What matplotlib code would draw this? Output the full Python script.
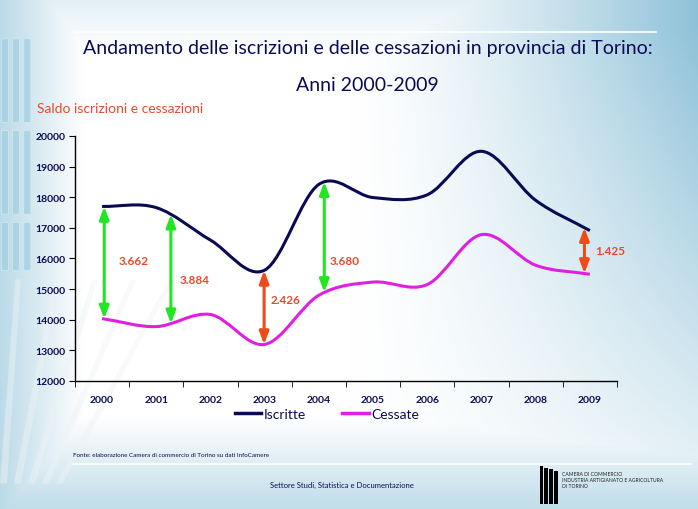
import numpy as np
import matplotlib
matplotlib.use("Agg")
import matplotlib.pyplot as plt
from matplotlib.path import Path
from matplotlib.patches import PathPatch, Polygon, FancyBboxPatch
from matplotlib.lines import Line2D

# dati
anni = ["2000", "2001", "2002", "2003", "2004", "2005", "2006", "2007", "2008", "2009"]
iscritte = [17700, 17660, 16600, 15620, 18420, 17990, 18080, 19500, 17900, 16910]
cessate = [14038, 13776, 14170, 13194, 14800, 15230, 15150, 16780, 15780, 15485]

# saldi annotati
saldi_idx = [0, 1, 3, 4, 9]
saldi_lbl = ["3.662", "3.884", "2.426", "3.680", "1.425"]
saldi_col = ["#22e622", "#22e622", "#f04a18", "#22e622", "#f04a18"]
saldi_dx = [0.04, 0.27, -0.01, 0.1, -0.1]
lbl_dx = [0.27, 0.17, 0.11, 0.1, 0.2]
lbl_dy = [60, -360, 260, -780, 0]

navy = "#0b0b55"
red_txt = "#e84a2a"
plt.rcParams['font.family'] = ['Lato', 'DejaVu Sans']


def ctrl_points(y):
    # Catmull-Rom -> bezier, come la linea "smussata" di Excel
    x = np.arange(len(y), dtype=float)
    y = np.asarray(y, dtype=float)
    px = np.concatenate([[2 * x[0] - x[1]], x, [2 * x[-1] - x[-2]]])
    py = np.concatenate([[2 * y[0] - y[1]], y, [2 * y[-1] - y[-2]]])
    segs = []
    for i in range(len(y) - 1):
        p0 = (px[i], py[i]); p1 = (px[i + 1], py[i + 1])
        p2 = (px[i + 2], py[i + 2]); p3 = (px[i + 3], py[i + 3])
        c1 = (p1[0] + (p2[0] - p0[0]) / 6, p1[1] + (p2[1] - p0[1]) / 6)
        c2 = (p2[0] - (p3[0] - p1[0]) / 6, p2[1] - (p3[1] - p1[1]) / 6)
        segs.append((p1, c1, c2, p2))
    return segs


def smooth_path(y):
    segs = ctrl_points(y)
    verts = [segs[0][0]]
    codes = [Path.MOVETO]
    for p1, c1, c2, p2 in segs:
        verts += [c1, c2, p2]
        codes += [Path.CURVE4] * 3
    return Path(verts, codes)


def curve_at(y, xv):
    segs = ctrl_points(y)
    i = min(int(np.floor(xv)), len(segs) - 1)
    t = xv - i
    p1, c1, c2, p2 = segs[i]
    return ((1 - t) ** 3 * p1[1] + 3 * (1 - t) ** 2 * t * c1[1]
            + 3 * (1 - t) * t ** 2 * c2[1] + t ** 3 * p2[1])


fig = plt.figure(figsize=(6.98, 5.10), dpi=100)

# sfondo sfumato
bg = fig.add_axes([0, 0, 1, 1], zorder=-10)
gx, gy = np.meshgrid(np.linspace(0, 1, 350), np.linspace(0, 1, 255))  # gy = 0 in alto
w_right = np.clip((gx - 0.5) / 0.5, 0, 1) ** 1.4 * np.clip(1.05 - 0.9 * gy, 0, 1)
w_bot = np.clip((gy - 0.82) / 0.18, 0, 1) * 0.55
w_left = np.clip((0.12 - gx) / 0.12, 0, 1) * 0.6
w_top = np.clip((0.1 - gy) / 0.1, 0, 1) * 0.25
w = np.clip(np.maximum.reduce([w_right, w_bot, w_left, w_top]), 0, 1)
white = np.array([1.0, 1.0, 1.0])
blue = np.array([0.56, 0.76, 0.85])
img = white[None, None, :] * (1 - w[..., None]) + blue[None, None, :] * w[..., None]
bg.imshow(img, extent=[0, 1, 0, 1], aspect='auto', origin='upper')
# strisce decorative a sinistra
for k in range(3):
    for y0, y1 in [(0.76, 0.92), (0.58, 0.74), (0.47, 0.56)]:
        bg.add_patch(FancyBboxPatch((0.004 + k * 0.016, y0), 0.006, y1 - y0,
                                    boxstyle="round,pad=0.002", facecolor="#a3cfe0",
                                    edgecolor='#d8ecf3', lw=0.6, alpha=0.75))
for k in range(5):
    x0 = 0.0 + k * 0.02
    bg.add_patch(Polygon([[x0, 0.05], [x0 + 0.01, 0.05], [x0 + 0.03 + k * 0.035, 0.45],
                          [x0 + 0.022 + k * 0.035, 0.45]], closed=True,
                         facecolor="#eef3f5", edgecolor='none', alpha=0.45))
bg.plot([0.108, 0.94], [0.935, 0.935], color='white', lw=1.2)
bg.plot([0.105, 0.99], [0.088, 0.088], color='white', lw=1.2)
bg.set_xlim(0, 1)
bg.set_ylim(0, 1)
bg.axis('off')

# testi
fig.text(0.527, 0.905, "Andamento delle iscrizioni e delle cessazioni in provincia di Torino:",
         ha='center', va='center', fontsize=14, color=navy)
fig.text(0.527, 0.833, "Anni 2000-2009", ha='center', va='center', fontsize=14, color=navy)
fig.text(0.053, 0.787, "Saldo iscrizioni e cessazioni", ha='left', va='center',
         fontsize=10, color=red_txt)

# grafico
ax = fig.add_axes([0.1074, 0.251, 0.7765, 0.4804])
ax.patch.set_alpha(0)
x = np.arange(len(anni))
ax.add_patch(PathPatch(smooth_path(iscritte), facecolor='none', edgecolor="#0a0a52", lw=2.2,
                       capstyle='butt'))
ax.add_patch(PathPatch(smooth_path(cessate), facecolor='none', edgecolor="#e020e0", lw=2.2,
                       capstyle='butt'))
ax.set_xlim(-0.5, len(anni) - 0.5)
ax.set_ylim(12000, 20000)
ax.set_yticks(np.arange(12000, 20001, 1000))
ax.set_xticks(x)
ax.set_xticklabels(anni)
ax.set_xticks(np.arange(-0.5, len(anni)), minor=True)
ax.tick_params(axis='x', which='major', length=0, pad=10, labelsize=7.5, labelcolor=navy)
ax.tick_params(axis='x', which='minor', length=4, direction='out', color='black')
ax.tick_params(axis='y', length=4, direction='out', labelsize=7.5, labelcolor=navy, pad=3)
for lab in ax.get_xticklabels() + ax.get_yticklabels():
    lab.set_fontweight('bold')
for s in ['top', 'right']:
    ax.spines[s].set_visible(False)
for s in ['left', 'bottom']:
    ax.spines[s].set_color('black')
    ax.spines[s].set_linewidth(1.0)

# frecce dei saldi
for i, lbl, col, dx, ldx, ldy in zip(saldi_idx, saldi_lbl, saldi_col, saldi_dx, lbl_dx, lbl_dy):
    xa = i + dx
    y_top = curve_at(iscritte, xa)
    y_bot = curve_at(cessate, xa)
    ax.annotate("", xy=(xa, y_top), xytext=(xa, y_bot),
                arrowprops=dict(arrowstyle='<|-|>,head_length=0.75,head_width=0.28',
                                color=col, lw=2.2, shrinkA=0, shrinkB=0))
    ax.text(xa + ldx, (y_top + y_bot) / 2 + ldy, lbl, ha='left', va='center',
            fontsize=8.5, fontweight='bold', color=red_txt)

# legenda
handles = [Line2D([], [], color="#0a0a52", lw=2.5), Line2D([], [], color="#e020e0", lw=2.5)]
ax.legend(handles, ["Iscritte", "Cessate"], loc='upper center', bbox_to_anchor=(0.465, -0.06),
          ncol=2, frameon=False, fontsize=10, handlelength=1.9, handletextpad=0.2,
          columnspacing=2.6, labelcolor=navy)

# note
fig.text(0.105, 0.106, "Fonte: elaborazione Camera di commercio di Torino su dati InfoCamere",
         fontsize=4.5, color=navy, va='center')
fig.text(0.49, 0.049, "Settore Studi, Statistica e Documentazione", fontsize=5.5,
         color=navy, ha='center', va='center')

# logo camera di commercio
lg = fig.add_axes([0.772, 0.01, 0.028, 0.075])
lg.bar([0, 1, 2, 3], [1, 0.95, 0.9, 0.85], width=0.7, color='black')
lg.set_xlim(-0.5, 3.5)
lg.set_ylim(0, 1)
lg.axis('off')
fig.text(0.805, 0.058, "CAMERA DI COMMERCIO\nINDUSTRIA ARTIGIANATO E AGRICOLTURA\nDI TORINO",
         fontsize=3.6, color='#222222', va='center', linespacing=1.3)

fig.savefig("out.png", dpi=100)
